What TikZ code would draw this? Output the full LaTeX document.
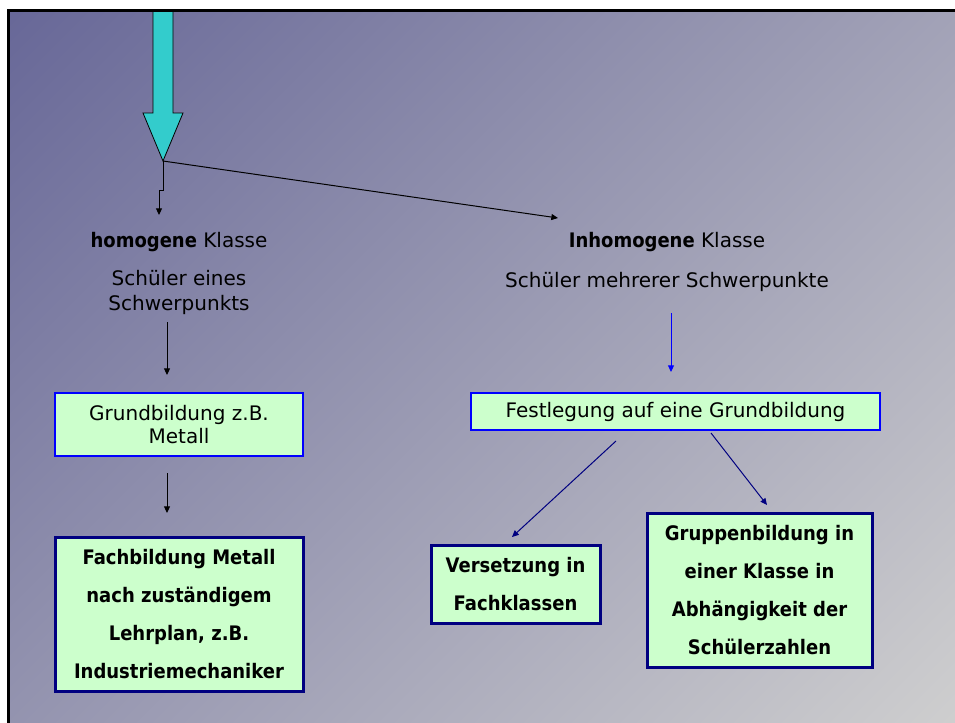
\documentclass[tikz,border=0pt]{standalone}
\usepackage{fontspec}
\setmainfont{DejaVu Sans}
\newfontfamily\narrowbold{DejaVu Sans}[FakeStretch=0.9]
\usepackage{xcolor}
\usetikzlibrary{arrows.meta, positioning, calc}

\definecolor{pale}{RGB}{204,255,204}
\definecolor{arrowcyan}{RGB}{51,204,204}
\definecolor{navy}{RGB}{0,0,128}
\definecolor{bgtop}{RGB}{104,104,152}
\definecolor{bgbottom}{RGB}{207,207,207}

\begin{document}
\begin{tikzpicture}[
		x=0.75pt, y=-0.75pt,
		>={Triangle[length=5pt,width=4.5pt]},
		plain/.style={font=\fontsize{15}{18.75}\selectfont, align=center, text=black},
		lightbox/.style={draw=blue, line width=1.5pt, fill=pale, align=center, inner sep=0pt, font=\fontsize{15}{17.5}\selectfont},
		heavybox/.style={draw=navy, line width=2.25pt, fill=pale, align=center, inner sep=0pt, font=\narrowbold\bfseries\fontsize{15}{28.5}\selectfont},
		link/.style={->, line width=0.75pt}
		]
		
		% ==========================================
		% BACKGROUND AND FRAME
		% ==========================================
		\useasboundingbox (0,0) rectangle (955,722);
		\fill[white] (-10,-10) rectangle (970,735);
		\begin{scope}
			\clip (8.7,10.5) rectangle (970,735);
			\shade[top color=bgtop, bottom color=bgbottom, shading angle=45] (-104,-219.75) rectangle (1080,960);
		\end{scope}
		
		% big cyan arrow
		\draw[fill=arrowcyan, line width=0.6pt] (153,10.5) -- (153,113) -- (143,113) -- (163,161) -- (183,113) -- (173,113) -- (173,10.5);
		\coordinate (tip) at (163,161);
		
		\draw[line width=2.25pt] (8.7,735) -- (8.7,10.5) -- (970,10.5);
		
		% ==========================================
		% LEFT BRANCH (homogene Klasse)
		% ==========================================
		\node[plain] (homo) at (179,242) {{\narrowbold\bfseries homogene} Klasse};
		\node[plain] (schueler) at (179,292.5) {Schüler eines\\Schwerpunkts};
		
		\node[lightbox, minimum width=186pt, minimum height=47.25pt] (grund) at (179,424.5) {Grundbildung z.B.\\Metall};
		
		\node[heavybox, minimum width=186pt, minimum height=115.5pt] (fach) at (179,614) {Fachbildung Metall\\nach zuständigem\\Lehrplan, z.B.\\Industriemechaniker};
		
		% ==========================================
		% RIGHT BRANCH (Inhomogene Klasse)
		% ==========================================
		\node[plain] (inhomo) at (667,242) {{\narrowbold\bfseries Inhomogene} Klasse};
		\node[plain] (schuelerm) at (667,282) {Schüler mehrerer Schwerpunkte};
		
		\node[lightbox, minimum width=306.75pt, minimum height=27.75pt] (fest) at (675.5,411.5) {Festlegung auf eine Grundbildung};
		
		\node[heavybox, minimum width=126.75pt, minimum height=58.5pt] (vers) at (515.5,584) {Versetzung in\\Fachklassen};
		\node[heavybox, minimum width=168.75pt, minimum height=115.5pt] (grupp) at (759.5,590) {Gruppenbildung in\\einer Klasse in\\Abhängigkeit der\\Schülerzahlen};
		
		% ==========================================
		% CONNECTORS
		% ==========================================
		\draw[link] (tip) -- ++(0,29) -| ($(homo.center)+(-20,-27)$);
		\draw[link] (tip) -- ($(inhomo.center)+(-109,-24)$);
		
		\draw[link] ($(schueler.center)+(-12,29.5)$) -- ($(grund.center)+(-12,-49.5)$);
		\draw[link] ($(grund.center)+(-12,48.5)$) -- ($(fach.center)+(-12,-101)$);
		
		\draw[link, blue] ($(schuelerm.center)+(4,31)$) -- ($(fest.center)+(-4.5,-39.5)$);
		\draw[link, navy] ($(fest.center)+(-59.5,29.5)$) -- ($(vers.center)+(-3.5,-47)$);
		\draw[link, navy] ($(fest.center)+(35.5,21.5)$) -- ($(grupp.center)+(7.5,-85)$);
		
	\end{tikzpicture}
\end{document}
